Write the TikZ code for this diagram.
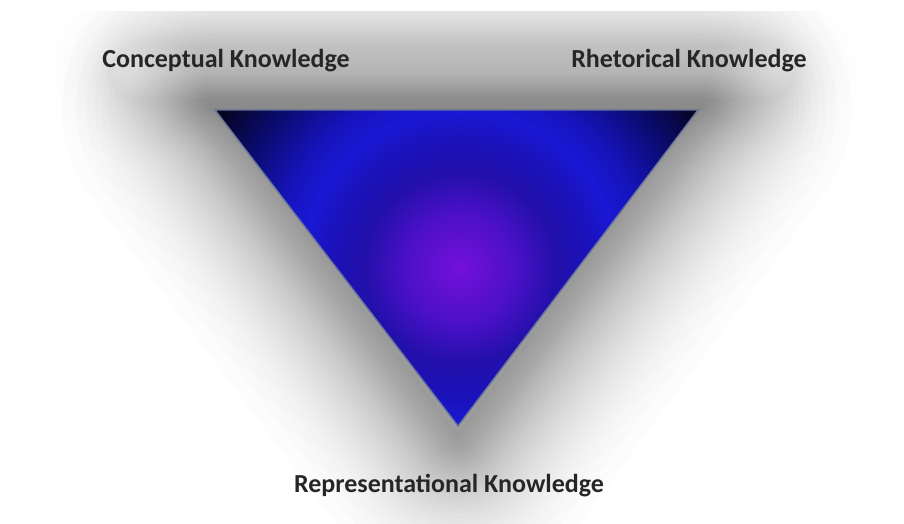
\documentclass[tikz,border=0pt]{standalone}
\usepackage{fontspec}
\setmainfont{Carlito}
\definecolor{purp}{RGB}{116,16,218}
\definecolor{vio}{RGB}{76,16,200}
\definecolor{dkb}{RGB}{34,16,170}
\definecolor{blu}{RGB}{26,18,188}
\definecolor{brblu}{RGB}{26,24,212}
\definecolor{blu2}{RGB}{22,20,188}
\definecolor{navy}{RGB}{10,10,105}
\definecolor{dark}{RGB}{5,5,35}
\definecolor{edgec}{RGB}{105,118,155}
\definecolor{txt}{RGB}{38,38,38}
\pgfdeclareradialshading{trishade}{\pgfpoint{0bp}{0bp}}{color(0bp)=(purp); color(4.5bp)=(vio); color(8bp)=(dkb); color(11bp)=(blu); color(13bp)=(brblu); color(15.5bp)=(blu2); color(20bp)=(navy); color(23.5bp)=(dark); color(25bp)=(dark); color(50bp)=(dark)}
\tikzset{
  lbl/.style={font=\bfseries\fontsize{26}{30}\selectfont, text=txt, inner sep=0pt},
  glowline/.style={line join=round, draw=black, opacity=0.0125},
  bandline/.style={line join=round, draw=black, opacity=0.0045}
}
\begin{document}
\begin{tikzpicture}[x=1pt,y=-1pt]
\useasboundingbox (0,0) rectangle (904,524);
\fill[white] (0,0) rectangle (904,524);
\coordinate (A) at (215,110);
\coordinate (B) at (698,110);
\coordinate (C) at (458,426);
\coordinate (Ag) at (212,108);
\coordinate (Bg) at (701,108);
\coordinate (Cg) at (458,436);
\coordinate (ctr) at (460,268);
% soft glow (clipped at the top)
\begin{scope}
\clip (0,12) rectangle (904,524);
\foreach \i in {1,...,36}{
  \pgfmathsetmacro\w{340*(1-sqrt((\i-0.5)/36))}
  \draw[glowline, line width=\w pt] (Ag) -- (Bg) -- (Cg) -- cycle;
}
\foreach \i in {1,...,20}{
  \pgfmathsetmacro\w{150*(1-sqrt((\i-0.5)/20))}
  \draw[bandline, line width=\w pt, rounded corners=30pt] (110,45) rectangle (795,100);
}
\end{scope}
% triangle
\begin{scope}
\clip (A) -- (B) -- (C) -- cycle;
\shade[shading=trishade] (ctr) circle (300);
\end{scope}
\draw[edgec, line width=1.4pt, line join=miter] (A) -- (B) -- (C) -- cycle;
% labels
\node[lbl] (ck) at (226,61) {Conceptual Knowledge};
\node[lbl] (rk) at (689,61) {Rhetorical Knowledge};
\node[lbl] (rep) at (449,486) {Representational Knowledge};
\end{tikzpicture}
\end{document}
